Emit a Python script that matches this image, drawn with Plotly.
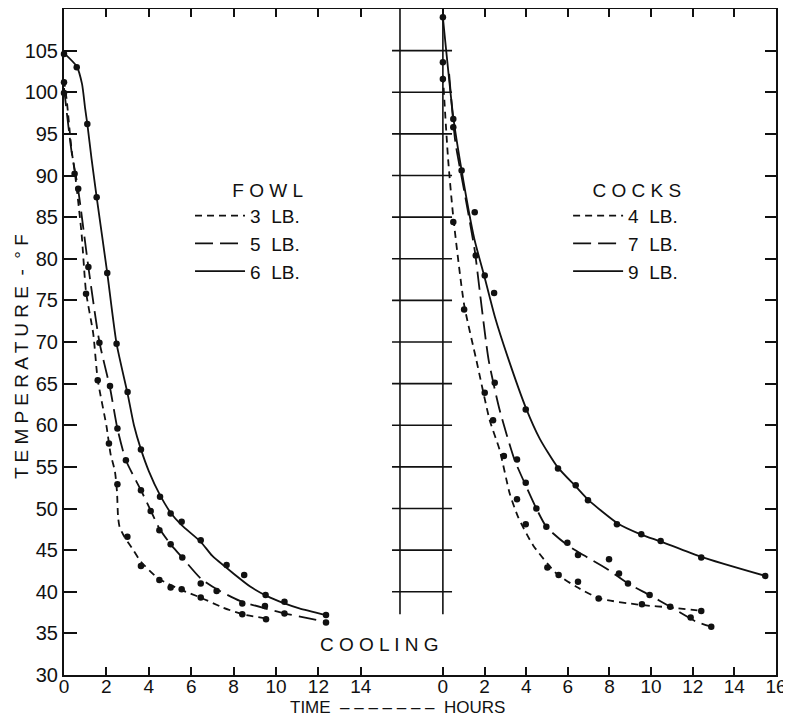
import plotly.graph_objects as go

# ---- FOWL (left panel) : measured points ----
f3_t = [0, 0.5, 1.04, 1.59, 2.12, 2.52, 2.99, 3.63, 4.5, 5.03, 5.55, 6.45, 8.41, 9.53]
f3_temp = [101.2, 90.2, 75.8, 65.4, 57.8, 52.9, 46.6, 43.1, 41.4, 40.5, 40.3, 39.3, 37.3, 36.7]
f5_t = [0, 0.67, 1.15, 1.67, 2.17, 2.52, 2.92, 3.63, 4.09, 4.5, 5.03, 5.58, 6.45, 7.2, 8.41, 9.48, 10.4, 12.36]
f5_temp = [99.9, 88.4, 79.0, 69.9, 64.7, 59.6, 55.8, 52.2, 49.7, 47.4, 45.7, 44.1, 41.0, 40.1, 38.6, 38.3, 37.4, 36.3]
f6_t = [0, 0.6, 1.1, 1.54, 2.04, 2.48, 3.0, 3.63, 4.53, 5.03, 5.55, 6.45, 7.67, 8.5, 9.51, 10.4, 12.36]
f6_temp = [104.6, 103.0, 96.2, 87.4, 78.3, 69.8, 64.0, 57.1, 51.4, 49.4, 48.4, 46.2, 43.2, 42.0, 39.6, 38.8, 37.2]

# ---- FOWL : drawn curves ----
f3c_t = [0, 0.13, 0.36, 0.52, 0.83, 1.04, 1.38, 1.59, 2.01, 2.2, 2.4, 2.5, 2.55, 2.62, 2.85, 3.27, 3.63, 4.45, 5.55, 6.45, 7.5, 8.41, 9.53]
f3c_temp = [101.5, 99.0, 93.0, 90.2, 83.0, 76.0, 71.0, 65.5, 59.8, 56.5, 54.5, 52.0, 49.0, 47.8, 46.6, 45.0, 43.6, 41.6, 40.2, 39.3, 38.1, 37.3, 36.8]
f5c_t = [0, 0.35, 0.67, 1.15, 1.67, 2.17, 2.52, 2.92, 3.63, 4.1, 4.5, 5.03, 5.58, 6.45, 7.28, 8.3, 9.48, 10.4, 12.36]
f5c_temp = [100.5, 93.0, 88.3, 79.0, 70.0, 64.5, 59.6, 55.8, 52.2, 49.7, 47.6, 45.7, 44.1, 41.6, 40.2, 38.9, 38.0, 37.4, 36.4]
f6c_t = [0, 0.6, 0.85, 1.0, 1.1, 1.3, 1.54, 2.04, 2.48, 3.0, 3.3, 3.63, 4.0, 4.53, 5.03, 5.55, 6.45, 7.0, 7.99, 8.8, 9.56, 10.4, 11.1, 12.36]
f6c_temp = [104.7, 103.1, 101.0, 98.0, 96.2, 92.0, 87.4, 78.3, 69.8, 63.8, 60.0, 57.1, 54.5, 51.6, 49.5, 48.0, 46.0, 44.3, 42.2, 40.6, 39.5, 38.6, 38.0, 37.2]

# ---- COCKS (right panel) : measured points ----
c4_t = [0, 0.5, 1.02, 2.01, 2.41, 2.93, 3.56, 3.98, 5.02, 5.56, 6.49, 7.48, 9.56, 10.92, 12.41]
c4_temp = [101.6, 84.4, 73.9, 63.9, 60.6, 56.3, 51.1, 48.1, 42.9, 42.0, 41.2, 39.2, 38.5, 38.2, 37.7]
c7_t = [0, 0.5, 1.58, 2.49, 3.56, 3.98, 4.49, 4.97, 5.98, 6.49, 7.98, 8.46, 8.89, 9.93, 11.9, 12.89]
c7_temp = [103.6, 95.8, 80.4, 65.1, 55.9, 53.1, 50.0, 47.8, 45.9, 44.4, 43.9, 42.2, 41.0, 39.6, 36.9, 35.8]
c9_t = [0, 0.5, 0.9, 1.53, 2.01, 2.46, 3.98, 5.53, 6.38, 6.97, 8.36, 9.53, 10.46, 12.41, 15.48]
c9_temp = [109.0, 96.8, 90.6, 85.6, 78.0, 75.9, 61.9, 54.8, 52.8, 51.0, 48.1, 46.9, 46.1, 44.1, 41.9]

# ---- COCKS : drawn curves ----
c4c_t = [0, 0.25, 0.5, 1.02, 1.61, 2.25, 2.73, 3.21, 3.61, 4.33, 5.45, 6.41, 7.53, 9.56, 11.0, 12.41]
c4c_temp = [102.0, 92.0, 85.0, 74.5, 67.8, 60.6, 57.0, 51.8, 49.0, 45.6, 42.2, 40.6, 39.2, 38.4, 38.1, 37.7]
c7c_t = [0.3, 0.6, 1.0, 1.53, 1.8, 2.2, 2.73, 3.45, 4.01, 4.49, 4.97, 5.98, 6.89, 7.85, 8.89, 9.93, 10.92, 12.17, 12.89]
c7c_temp = [102.2, 94.0, 88.5, 81.0, 75.5, 67.8, 61.8, 55.8, 52.6, 50.0, 47.8, 45.6, 44.2, 42.8, 41.0, 39.6, 38.2, 36.4, 35.8]
c9c_t = [0, 0.5, 0.9, 1.5, 2.0, 2.5, 3.1, 4.0, 4.65, 5.5, 6.4, 7.0, 8.4, 9.5, 10.5, 12.4, 15.5]
c9c_temp = [109.0, 97.0, 90.6, 82.5, 77.8, 73.0, 68.3, 62.0, 58.4, 55.0, 52.6, 51.0, 48.2, 46.9, 46.0, 44.2, 41.9]

fowl_names = ["3\u00a0\u00a0LB.", "5\u00a0\u00a0LB.", "6\u00a0\u00a0LB."]
cock_names = ["4\u00a0\u00a0LB.", "7\u00a0\u00a0LB.", "9\u00a0\u00a0LB."]
y_ticks = list(range(30, 110, 5))
fowl_xticks = list(range(0, 16, 2))
cock_xticks = list(range(0, 18, 2))
break_levels = list(range(40, 110, 5))

ink = "#111111"
font = "Liberation Sans"
dashes = ["7px,5px", "18px,7px", "solid"]

fig = go.Figure()

fowl_curves = [(f3c_t, f3c_temp), (f5c_t, f5c_temp), (f6c_t, f6c_temp)]
fowl_pts = [(f3_t, f3_temp), (f5_t, f5_temp), (f6_t, f6_temp)]
cock_curves = [(c4c_t, c4c_temp), (c7c_t, c7c_temp), (c9c_t, c9c_temp)]
cock_pts = [(c4_t, c4_temp), (c7_t, c7_temp), (c9_t, c9_temp)]

for i in range(3):
    fig.add_trace(go.Scatter(x=fowl_curves[i][0], y=fowl_curves[i][1], mode="lines",
                             line=dict(color=ink, width=1.8, dash=dashes[i], shape="spline", smoothing=0.6),
                             name=fowl_names[i], legend="legend", xaxis="x", yaxis="y"))
    fig.add_trace(go.Scatter(x=fowl_pts[i][0], y=fowl_pts[i][1], mode="markers",
                             marker=dict(color=ink, size=6.5), showlegend=False,
                             xaxis="x", yaxis="y", cliponaxis=False))
for i in range(3):
    fig.add_trace(go.Scatter(x=cock_curves[i][0], y=cock_curves[i][1], mode="lines",
                             line=dict(color=ink, width=1.8, dash=dashes[i], shape="spline", smoothing=0.6),
                             name=cock_names[i], legend="legend2", xaxis="x2", yaxis="y2"))
    fig.add_trace(go.Scatter(x=cock_pts[i][0], y=cock_pts[i][1], mode="markers",
                             marker=dict(color=ink, size=6.5), showlegend=False,
                             xaxis="x2", yaxis="y2", cliponaxis=False))

# axis-break decoration between the two panels
shapes = [
    dict(type="line", xref="x2 domain", yref="y", x0=0, x1=0, y0=37.3, y1=110, line=dict(color=ink, width=1.6)),
    dict(type="line", xref="x2", yref="y", x0=0, x1=0, y0=37.3, y1=110, line=dict(color=ink, width=1.6)),
]
for lv in break_levels:
    shapes.append(dict(type="line", xref="paper", yref="y", x0=0.4607, x1=0.545, y0=lv, y1=lv,
                       line=dict(color=ink, width=1.6)))

tickfont = dict(family=font, size=20, color=ink)
xtickfont = dict(family=font, size=19, color=ink)
axis_common = dict(showline=True, linewidth=2, linecolor=ink, showgrid=False, zeroline=False,
                   tickcolor=ink, tickwidth=1.6, ticks="inside", automargin=False)
legend_font = dict(family=font, size=19, color=ink)
fig.update_layout(
    # page body keeps an 8px margin, so the figure is 8px smaller and margins shifted
    width=783, height=712,
    margin=dict(l=56, r=15, t=1, b=45),
    paper_bgcolor="white", plot_bgcolor="white",
    font=dict(family=font, color=ink),
    xaxis=dict(domain=[0, 0.4719], range=[0, 15.85], tickvals=fowl_xticks, ticklen=8,
               mirror="ticks", tickfont=xtickfont, anchor="y", ticklabelstandoff=-7, **axis_common),
    xaxis2=dict(domain=[0.4719, 1], range=[-2.06, 16.0], tickvals=cock_xticks, ticklen=8,
                mirror="ticks", tickfont=xtickfont, anchor="y2", ticklabelstandoff=-7, **axis_common),
    yaxis=dict(range=[30, 110], tickvals=y_ticks, ticklen=13, tickfont=tickfont, anchor="x",
               ticklabelstandoff=0, **axis_common),
    yaxis2=dict(matches="y", range=[30, 110], tickvals=y_ticks[1:], ticklen=11,
                showticklabels=False, anchor="x2", side="right", **axis_common),
    legend=dict(x=0.177, y=0.755, xanchor="left", yanchor="top", bgcolor="rgba(0,0,0,0)",
                font=legend_font, itemwidth=50,
                title=dict(text="F O W L", side="top right", font=legend_font)),
    legend2=dict(x=0.708, y=0.755, xanchor="left", yanchor="top", bgcolor="rgba(0,0,0,0)",
                 font=legend_font, itemwidth=50,
                 title=dict(text="C O C K S", side="top right", font=legend_font)),
    shapes=shapes,
    annotations=[
        dict(text="C O O L I N G", xref="paper", yref="paper", x=0.4438, y=0.0465, showarrow=False,
             xanchor="center", yanchor="middle", font=dict(family=font, size=19, color=ink)),
        dict(text="TIME  \u2013 \u2013 \u2013 \u2013 \u2013 \u2013 \u2013  HOURS", xref="paper", yref="paper",
             x=0.469, y=-0.066, xanchor="center", yanchor="bottom", showarrow=False,
             font=dict(family=font, size=17, color=ink)),
        dict(text="T E M P E R A T U R E\u00a0\u00a0-\u00a0\u00a0\u00b0 F", xref="paper", yref="paper",
             x=-0.059, y=0.479, xanchor="center", yanchor="middle", textangle=-90, showarrow=False,
             font=dict(family=font, size=19, color=ink)),
    ],
)

fig.write_html("out.html")
